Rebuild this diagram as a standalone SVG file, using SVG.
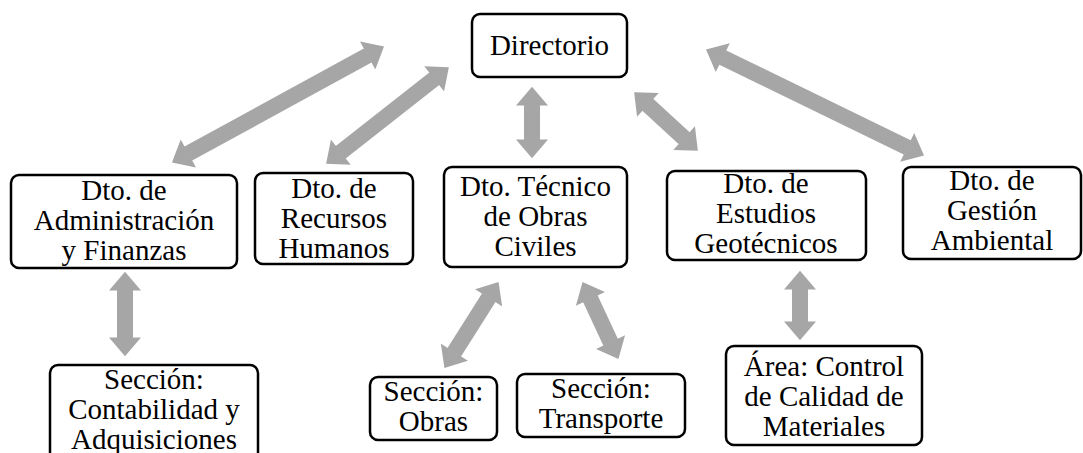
<svg xmlns="http://www.w3.org/2000/svg" width="1083" height="453" viewBox="0 0 1083 453">
<defs>
<style>
.box{fill:#fff;stroke:#000;stroke-width:2.5}
.t{font-family:'Liberation Serif','Times New Roman',serif;font-size:29px;fill:#000;text-anchor:middle}
.c{stroke:#A6A6A6;stroke-width:16;fill:none}
</style>
<marker id="ah" markerUnits="userSpaceOnUse" markerWidth="20" markerHeight="32" refX="0.5" refY="15" orient="auto-start-reverse" viewBox="0 0 18 30">
<path d="M0,0 L17.5,15 L0,30 Z" fill="#A6A6A6"/>
</marker>
</defs>
<rect width="1083" height="453" fill="#fff"/>
<g id="connectors">
<line class="c" x1="368.1" y1="55.2" x2="187.9" y2="153.8" marker-start="url(#ah)" marker-end="url(#ah)"/>
<line class="c" x1="434.6" y1="78.5" x2="340.4" y2="152.5" marker-start="url(#ah)" marker-end="url(#ah)"/>
<line class="c" x1="532" y1="105" x2="532" y2="140" marker-start="url(#ah)" marker-end="url(#ah)"/>
<line class="c" x1="647.5" y1="104.5" x2="684.5" y2="138.5" marker-start="url(#ah)" marker-end="url(#ah)"/>
<line class="c" x1="722.3" y1="57.4" x2="907.7" y2="147.6" marker-start="url(#ah)" marker-end="url(#ah)"/>
<line class="c" x1="125" y1="290" x2="125" y2="338" marker-start="url(#ah)" marker-end="url(#ah)"/>
<line class="c" x1="488.9" y1="297.4" x2="454.1" y2="352.6" marker-start="url(#ah)" marker-end="url(#ah)"/>
<line class="c" x1="590.2" y1="298.4" x2="610.8" y2="342.6" marker-start="url(#ah)" marker-end="url(#ah)"/>
<line class="c" x1="800" y1="289" x2="800" y2="322" marker-start="url(#ah)" marker-end="url(#ah)"/>
</g>
<g id="directorio">
<rect class="box" x="472" y="14" width="155" height="63" rx="8"/>
<text class="t" x="549.5" y="55">Directorio</text>
</g>
<g id="administracion">
<rect class="box" x="11" y="175" width="226" height="93" rx="8"/>
<text class="t" x="124" y="200">Dto. de</text>
<text class="t" x="124" y="230">Administración</text>
<text class="t" x="124" y="260">y Finanzas</text>
</g>
<g id="recursos">
<rect class="box" x="255" y="173" width="158" height="91" rx="8"/>
<text class="t" x="334" y="198">Dto. de</text>
<text class="t" x="334" y="228">Recursos</text>
<text class="t" x="334" y="258">Humanos</text>
</g>
<g id="tecnico">
<rect class="box" x="444" y="167" width="183" height="100" rx="8"/>
<text class="t" x="535.5" y="196">Dto. Técnico</text>
<text class="t" x="535.5" y="226">de Obras</text>
<text class="t" x="535.5" y="256">Civiles</text>
</g>
<g id="geotecnicos">
<rect class="box" x="667" y="171" width="199" height="89" rx="8"/>
<text class="t" x="766" y="193">Dto. de</text>
<text class="t" x="766" y="223">Estudios</text>
<text class="t" x="766" y="253">Geotécnicos</text>
</g>
<g id="ambiental">
<rect class="box" x="903" y="167" width="178" height="92" rx="8"/>
<text class="t" x="992" y="190">Dto. de</text>
<text class="t" x="992" y="220">Gestión</text>
<text class="t" x="992" y="250">Ambiental</text>
</g>
<g id="contabilidad">
<rect class="box" x="50" y="365" width="208" height="100" rx="8"/>
<text class="t" x="154" y="389">Sección:</text>
<text class="t" x="154" y="419">Contabilidad y</text>
<text class="t" x="154" y="449">Adquisiciones</text>
</g>
<g id="obras">
<rect class="box" x="370" y="377" width="127" height="63" rx="8"/>
<text class="t" x="433.5" y="401">Sección:</text>
<text class="t" x="433.5" y="431">Obras</text>
</g>
<g id="transporte">
<rect class="box" x="517" y="374" width="168" height="63" rx="8"/>
<text class="t" x="601" y="398">Sección:</text>
<text class="t" x="601" y="428">Transporte</text>
</g>
<g id="calidad">
<rect class="box" x="726" y="346" width="196" height="99" rx="8"/>
<text class="t" x="824" y="376">Área: Control</text>
<text class="t" x="824" y="406">de Calidad de</text>
<text class="t" x="824" y="436">Materiales</text>
</g>
</svg>
